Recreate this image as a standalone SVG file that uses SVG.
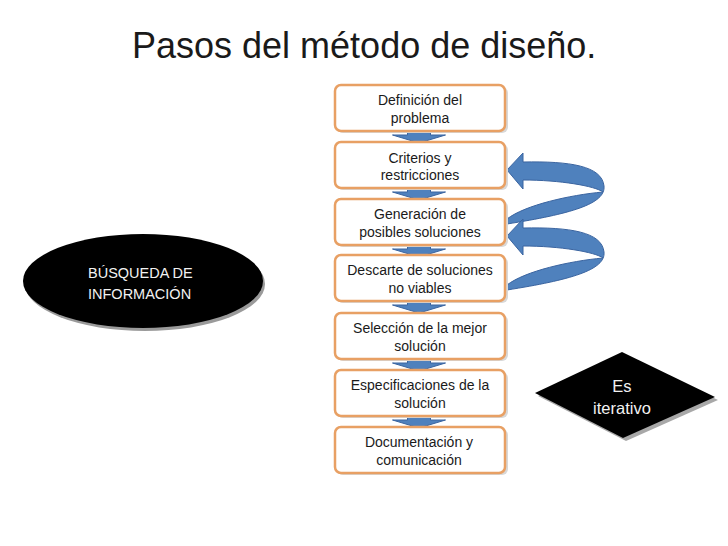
<svg xmlns="http://www.w3.org/2000/svg" width="728" height="546" viewBox="0 0 728 546">
<defs>
<style>
.box{fill:#fff;stroke:#E8A064;stroke-width:2.5}
.shadow{fill:#d8d8d8}
.bt{font-family:"Liberation Sans",Arial,sans-serif;font-size:14px;fill:#1a1a1a;text-anchor:middle}
.wt{font-family:"Liberation Sans",Arial,sans-serif;fill:#f2f2f2}
.blue{fill:#4F81BD;stroke:#3A64A0;stroke-width:1}
</style>
<path id="down" d="M-11.5,0 H11.5 V5 H26.5 L0,13 L-26.5,5 H-11.5 Z"/>
<path id="curve" d="M507,170 L523,153 L523,162 C570,161 602,166 604,186 C606,204 570,214 507,224 L507,219 C525,205 570,195 603,192 C595,186 560,180 523,180 L523,189 Z"/>
</defs>
<rect width="728" height="546" fill="#fff"/>
<text x="132" y="58" font-family="'Liberation Sans',Arial,sans-serif" font-size="36" fill="#1a1a1a">Pasos del método de diseño.</text>

<g id="connectors">
<use href="#down" class="blue" x="419" y="130"/>
<use href="#down" class="blue" x="419" y="187"/>
<use href="#down" class="blue" x="419" y="244"/>
<use href="#down" class="blue" x="419" y="300"/>
<use href="#down" class="blue" x="419" y="358"/>
<use href="#down" class="blue" x="419" y="415"/>
<use href="#curve" class="blue"/>
<use href="#curve" class="blue" y="66"/>
</g>

<g id="n1"><rect class="shadow" x="337" y="87" width="171" height="46" rx="6"/><rect class="box" x="335" y="85" width="170" height="46" rx="6"/><text class="bt" x="420" y="105">Definición del</text><text class="bt" x="420" y="123">problema</text></g>
<g id="n2"><rect class="shadow" x="337" y="144" width="171" height="46" rx="6"/><rect class="box" x="335" y="142" width="170" height="46" rx="6"/><text class="bt" x="420" y="163">Criterios y</text><text class="bt" x="420" y="180">restricciones</text></g>
<g id="n3"><rect class="shadow" x="337" y="201" width="171" height="46" rx="6"/><rect class="box" x="335" y="199" width="170" height="46" rx="6"/><text class="bt" x="420" y="219">Generación de</text><text class="bt" x="420" y="237">posibles soluciones</text></g>
<g id="n4"><rect class="shadow" x="337" y="257" width="171" height="46" rx="6"/><rect class="box" x="335" y="255" width="170" height="46" rx="6"/><text class="bt" x="420" y="275">Descarte de soluciones</text><text class="bt" x="420" y="293">no viables</text></g>
<g id="n5"><rect class="shadow" x="337" y="315" width="171" height="46" rx="6"/><rect class="box" x="335" y="313" width="170" height="46" rx="6"/><text class="bt" x="420" y="333">Selección de la mejor</text><text class="bt" x="420" y="351">solución</text></g>
<g id="n6"><rect class="shadow" x="337" y="372" width="171" height="46" rx="6"/><rect class="box" x="335" y="370" width="170" height="46" rx="6"/><text class="bt" x="420" y="390">Especificaciones de la</text><text class="bt" x="420" y="408">solución</text></g>
<g id="n7"><rect class="shadow" x="337" y="429" width="171" height="46" rx="6"/><rect class="box" x="335" y="427" width="170" height="46" rx="6"/><text class="bt" x="419" y="447">Documentación y</text><text class="bt" x="419" y="465">comunicación</text></g>

<g id="busqueda">
<ellipse cx="145" cy="284" rx="120" ry="47" fill="#9a9a9a"/>
<ellipse cx="143" cy="281" rx="120" ry="47" fill="#000"/>
<text class="wt" x="88" y="278" font-size="14.5">BÚSQUEDA DE</text>
<text class="wt" x="88" y="299" font-size="14.5">INFORMACIÓN</text>
</g>

<g id="iterativo">
<polygon points="538,396 625,355 718,400 626,441" fill="#a8a8a8"/>
<polygon points="535,393 622,352 715,397 623,438" fill="#000"/>
<text class="wt" x="622" y="392" font-size="16.5" text-anchor="middle">Es</text>
<text class="wt" x="622" y="414" font-size="16.5" text-anchor="middle">iterativo</text>
</g>
</svg>
